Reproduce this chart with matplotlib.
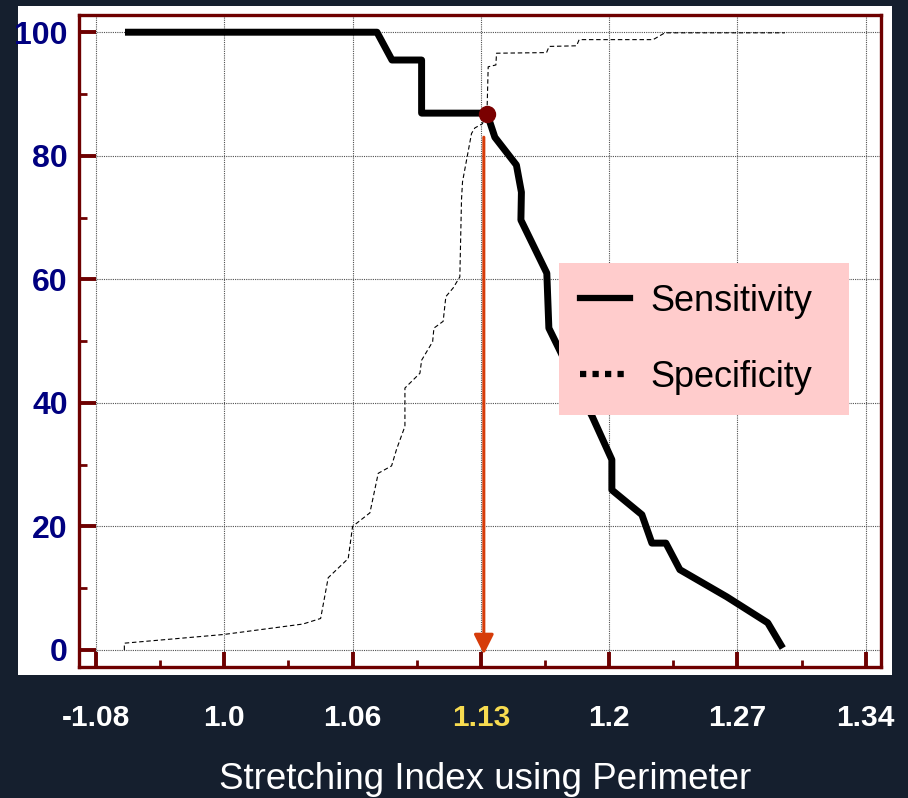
import matplotlib
matplotlib.use("Agg")
import matplotlib.pyplot as plt
from matplotlib.lines import Line2D
from matplotlib.patches import Rectangle

plt.rcParams['font.family'] = ['Liberation Sans', 'DejaVu Sans']

# x axis is drawn in "grid step" units: 0..6 match the tick labels below
x_labels = ['-1.08', '1.0', '1.06', '1.13', '1.2', '1.27', '1.34']
x_pos = [0, 1, 2, 3, 4, 5, 6]
y_ticks = [0, 20, 40, 60, 80, 100]

# Sensitivity curve
sens_x = [0.226, 2.190, 2.307, 2.538, 2.538, 3.047, 3.109, 3.277, 3.316, 3.312,
          3.514, 3.530, 3.870, 4.021, 4.021, 4.255, 4.333, 4.442, 4.551, 4.917,
          5.236, 5.353]
sens_y = [100, 100, 95.5, 95.5, 86.9, 86.9, 83.0, 78.5, 74.1, 69.6,
          61.0, 52.1, 37.7, 30.8, 25.9, 21.9, 17.3, 17.3, 13.0, 8.6,
          4.4, 0.3]

# Specificity curve
spec_x = [0.221, 0.221, 0.992, 1.613, 1.751, 1.810, 1.966, 2.000, 2.135, 2.200,
          2.304, 2.343, 2.408, 2.408, 2.525, 2.538, 2.624, 2.634, 2.706, 2.727,
          2.784, 2.836, 2.849, 2.857, 2.927, 2.953, 3.013, 3.049, 3.057, 3.117,
          3.122, 3.512, 3.532, 3.746, 3.766, 4.343, 4.434, 5.369]
spec_y = [0, 1.1, 2.5, 4.2, 5.1, 11.7, 14.8, 20.0, 22.2, 28.6,
          29.8, 32.5, 36.2, 42.4, 44.8, 46.9, 49.9, 52.1, 53.2, 57.2,
          58.6, 60.4, 72.9, 75.8, 83.6, 84.5, 85.2, 88.0, 94.4, 94.7,
          96.6, 96.7, 97.7, 97.8, 98.8, 98.8, 99.9, 99.9]

# cut-off point
cut_x = 3.047
cut_y = 86.8
arrow_x = 3.023
arrow_top = 83.0

dark_red = '#6e0000'

fig = plt.figure(figsize=(9.08, 7.98), dpi=100, facecolor='#151f2e')
fig.patches.append(Rectangle((18 / 908, 123 / 798), 874 / 908, 669 / 798,
                             transform=fig.transFigure, facecolor='white',
                             edgecolor='none', zorder=-10))
ax = fig.add_axes([0.087, 0.1642, 0.883, 0.8175])
ax.set_facecolor('white')

ax.plot(spec_x, spec_y, color='black', lw=0.8, linestyle=(0, (4, 2.5)), zorder=3)
ax.plot(sens_x, sens_y, color='black', lw=5, solid_joinstyle='round',
        solid_capstyle='butt', zorder=4)

ax.annotate('', xy=(arrow_x, -0.7), xytext=(arrow_x, arrow_top),
            arrowprops=dict(arrowstyle='-|>,head_length=0.6,head_width=0.3',
                            color='#d63c0a', lw=2.2, mutation_scale=20,
                            shrinkA=0, shrinkB=0), zorder=5)
ax.plot([cut_x], [cut_y], 'o', color='#7a0000', markersize=11.5, zorder=6)

ax.set_xlim(-0.1325, 6.117)
ax.set_ylim(-2.75, 102.85)

ax.set_xticks(x_pos)
ax.set_xticklabels(x_labels)
ax.set_xticks([0.5, 1.5, 2.5, 3.5, 4.5, 5.5], minor=True)
ax.set_yticks(y_ticks)
ax.set_yticks([10, 30, 50, 70, 90], minor=True)

ax.tick_params(axis='both', which='major', direction='in', color=dark_red,
               width=2.8)
ax.tick_params(axis='both', which='minor', direction='in', color=dark_red,
               width=2)
ax.tick_params(axis='y', which='major', length=12, pad=8,
               labelsize=23, labelcolor='#000080')
ax.tick_params(axis='y', which='minor', length=6)
ax.tick_params(axis='x', which='major', length=11, pad=27,
               labelsize=21.5, labelcolor='white')
ax.tick_params(axis='x', which='minor', length=5)
for lab in ax.get_yticklabels() + ax.get_xticklabels():
    lab.set_fontweight('bold')
ax.get_xticklabels()[3].set_color('#f8dc50')

for s in ax.spines.values():
    s.set_color(dark_red)
    s.set_linewidth(2.4)

ax.grid(True, which='major', color='#505050', lw=0.8, linestyle=(0, (1, 1)))
ax.set_axisbelow(True)

handles = [Line2D([], [], color='black', lw=4.5),
           Line2D([], [], color='black', lw=4.5, linestyle=(0, (1, 1)))]
leg = ax.legend(handles, ['Sensitivity', 'Specificity'],
                loc='upper left', bbox_to_anchor=(0.5985, 0.385, 0.3625, 0.234),
                mode='expand', fontsize=26, frameon=True, fancybox=False,
                facecolor='#ffcccc', edgecolor='none', framealpha=1,
                borderpad=0.58, labelspacing=1.12, handlelength=1.4,
                handletextpad=0.55, borderaxespad=0)
leg.set_zorder(7)

fig.text(0.534, 1 - 789 / 798, 'Stretching Index using Perimeter',
         color='white', fontsize=26.5, ha='center', va='baseline')

fig.savefig('out.png', dpi=100, facecolor=fig.get_facecolor())
